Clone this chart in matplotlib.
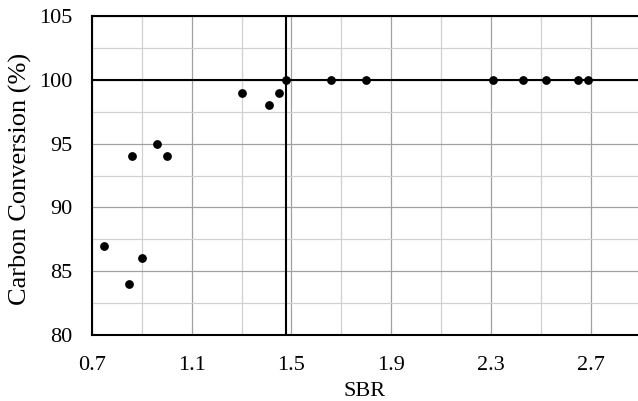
import matplotlib.pyplot as plt
import numpy as np

# SBR vs carbon conversion
sbr = [0.75, 0.85, 0.90, 0.86, 0.96, 1.00, 1.30, 1.41, 1.45, 1.48,
       1.66, 1.80, 2.31, 2.43, 2.52, 2.65, 2.69]
conv = [87, 84, 86, 94, 95, 94, 99, 98, 99, 100,
        100, 100, 100, 100, 100, 100, 100]
xticks = [0.7, 1.1, 1.5, 1.9, 2.3, 2.7]
yticks = [80, 85, 90, 95, 100, 105]
x_break = 1.48
y_level = 100

plt.rcParams['font.family'] = ['Liberation Serif', 'DejaVu Serif']

fig = plt.figure(figsize=(6.38, 4.01), dpi=100)
ax = fig.add_axes([0.1442, 0.1646, 1.0 - 0.1442, 0.960 - 0.1646])

ax.set_xlim(0.7, 2.89)
ax.set_ylim(80, 105)
ax.set_xticks(xticks)
ax.set_xticks(np.arange(0.9, 2.9, 0.4), minor=True)
ax.set_yticks(yticks)
ax.set_yticks(np.arange(82.5, 105, 5), minor=True)
ax.set_xticklabels([str(t) for t in xticks])

ax.grid(True, which='major', color='#a0a0a0', linewidth=0.9, zorder=0)
ax.grid(True, which='minor', color='#d0d0d0', linewidth=0.9, zorder=0)
ax.tick_params(which='both', length=0, labelsize=16)
ax.tick_params(axis='x', pad=15)
ax.tick_params(axis='y', pad=14)

for s in ['left', 'top', 'bottom']:
    ax.spines[s].set_linewidth(1.5)
ax.spines['right'].set_visible(False)

ax.axhline(y_level, color='black', linewidth=1.5, zorder=2)
ax.axvline(x_break, color='black', linewidth=1.5, zorder=2)
ax.scatter(sbr, conv, s=28, color='black', zorder=3)

ax.set_xlabel('SBR', fontsize=16, labelpad=5)
ax.set_ylabel('Carbon Conversion (%)', fontsize=19)
ax.yaxis.set_label_coords(-0.11, 0.49)

fig.savefig('out.png', dpi=100)
